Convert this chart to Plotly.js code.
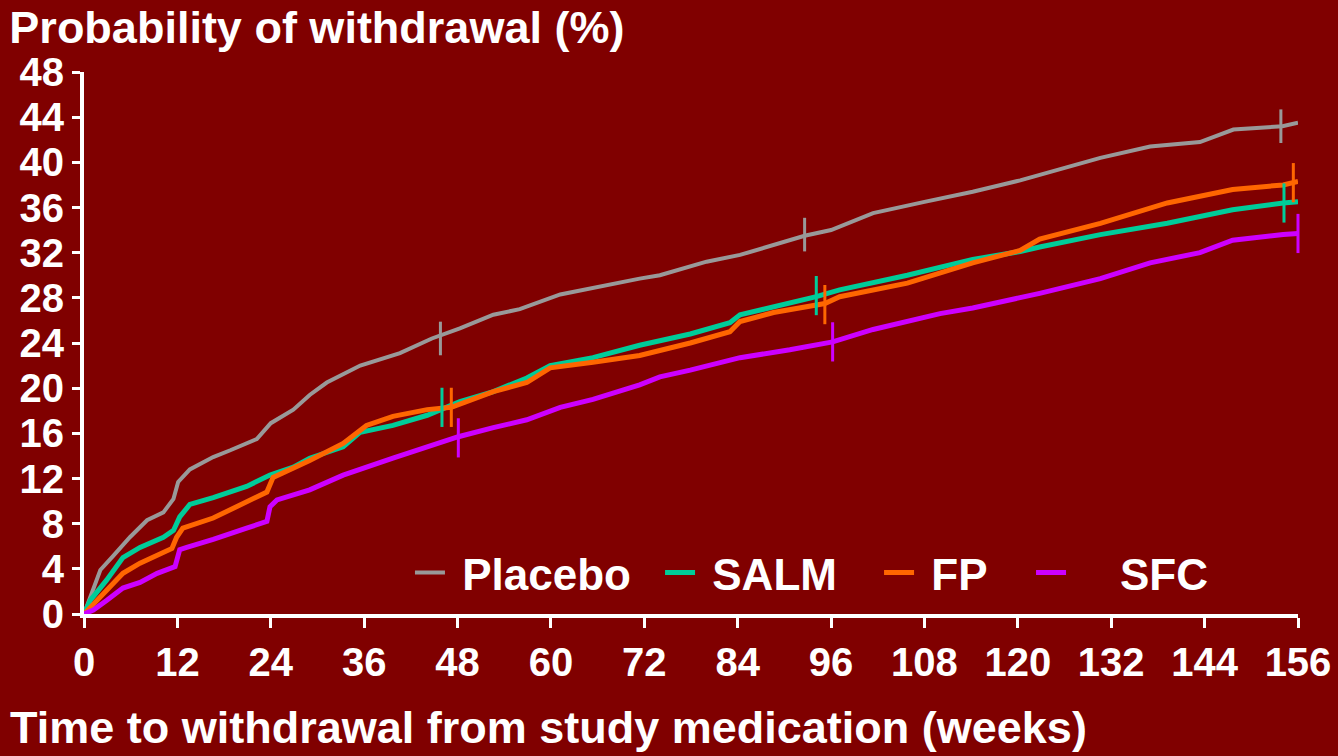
<!DOCTYPE html>
<html>
<head>
<meta charset="utf-8">
<script src="https://cdn.plot.ly/plotly-3.0.1.min.js"></script>
<style>html,body{margin:0;padding:0;background:#800000;}#chart{width:1338px;height:756px;}</style>
</head>
<body>
<div id="chart"></div>
<script>
// ---- data ----
const seriesNames = ["\u00a0Placebo", "\u00a0SALM", "\u00a0FP", "\u00a0\u00a0\u00a0\u00a0SFC"];

const placeboWeeks = [0, 0.8, 2.1, 3.7, 5.9, 8.1, 10.2, 11.5, 12.1, 13.6, 16.6, 18.8, 22.2, 24, 26.9, 29, 31.2, 35.5, 40.6, 44.7, 48.3, 52.6, 56, 61.2, 65.4, 71.4, 74, 80, 84.3, 92.6, 96, 101.4, 108, 114.2, 120.3, 130.6, 137, 143.4, 147.7, 154, 156];
const placeboPct   = [0, 1.5, 3.9, 5.1, 6.8, 8.3, 9.0, 10.2, 11.7, 12.8, 13.9, 14.5, 15.5, 16.9, 18.1, 19.4, 20.5, 22.0, 23.1, 24.4, 25.3, 26.5, 27.0, 28.3, 28.9, 29.7, 30.0, 31.2, 31.8, 33.5, 34.0, 35.5, 36.5, 37.4, 38.4, 40.4, 41.4, 41.8, 42.9, 43.2, 43.5];

const salmWeeks = [0, 0.8, 2.9, 5, 7.2, 10.2, 11.5, 12.3, 13.6, 16.6, 20.9, 23.9, 26.9, 29, 33.3, 35.5, 39.7, 44.1, 48.3, 52.6, 56.9, 59.9, 65.4, 71.4, 77.9, 83, 84.3, 88.6, 94.1, 97.1, 105.8, 114.2, 120.3, 122.8, 130.6, 139.2, 147.6, 154.1, 156];
const salmPct   = [0, 1.2, 3.0, 5.0, 5.9, 6.8, 7.4, 8.6, 9.7, 10.3, 11.3, 12.3, 13.0, 13.8, 14.8, 16.1, 16.7, 17.6, 18.8, 19.7, 20.9, 22.0, 22.7, 23.8, 24.8, 25.8, 26.5, 27.2, 28.1, 28.7, 30.0, 31.4, 32.1, 32.5, 33.6, 34.6, 35.8, 36.4, 36.5];

const fpWeeks = [0, 0.8, 2.9, 5, 7.2, 9.4, 11.3, 11.9, 12.7, 16.6, 20.9, 23.5, 24.3, 29, 33.3, 36.3, 39.7, 44.1, 47.2, 52.6, 56.9, 59.9, 65.4, 71.4, 77.9, 83, 84.3, 88.6, 95.2, 97.1, 105.8, 114.2, 120.3, 122.8, 130.6, 139.2, 147.6, 154.1, 156];
const fpPct   = [0, 0.6, 2.1, 3.6, 4.5, 5.2, 5.8, 6.8, 7.6, 8.5, 9.9, 10.8, 12.1, 13.6, 15.1, 16.7, 17.5, 18.1, 18.3, 19.7, 20.5, 21.8, 22.3, 22.9, 24.0, 25.0, 25.9, 26.7, 27.5, 28.1, 29.3, 31.1, 32.2, 33.2, 34.6, 36.4, 37.6, 38.0, 38.3];

const sfcWeeks = [0, 1.2, 2.9, 5, 7.2, 9.4, 11.7, 12.3, 13.2, 16.6, 20.9, 23.5, 23.9, 24.8, 29, 33.3, 39.7, 44.1, 48.1, 52.6, 56.9, 61.2, 65.4, 71.4, 74, 77.9, 84.3, 90.7, 96.2, 101.4, 110, 114.2, 122.8, 130.6, 137, 143.4, 147.6, 154.1, 156];
const sfcPct   = [0, 0.35, 1.2, 2.3, 2.8, 3.6, 4.2, 5.7, 5.9, 6.6, 7.6, 8.2, 9.5, 10.1, 11.0, 12.3, 13.8, 14.8, 15.7, 16.5, 17.2, 18.3, 19.0, 20.3, 21.0, 21.6, 22.7, 23.4, 24.1, 25.2, 26.6, 27.1, 28.4, 29.7, 31.1, 32.0, 33.1, 33.6, 33.7];

// censoring marks
const placeboCensorWeeks = [45.8, 92.6, 153.8];
const placeboCensorPct   = [24.4, 33.6, 43.2];
const salmCensorWeeks = [46.0, 94.1, 154.2];
const salmCensorPct   = [18.3, 28.2, 36.4];
const fpCensorWeeks = [47.2, 95.2, 155.4];
const fpCensorPct   = [18.3, 27.4, 38.2];
const sfcCensorWeeks = [48.1, 96.2, 156];
const sfcCensorPct   = [15.6, 24.1, 33.7];

const xTicks = [0, 12, 24, 36, 48, 60, 72, 84, 96, 108, 120, 132, 144, 156];
const yTicks = [0, 4, 8, 12, 16, 20, 24, 28, 32, 36, 40, 44, 48];

// ---- styles ----
const colors = ["#999999", "#00CC99", "#FF6600", "#CC00FF"];
const FONT = '"Liberation Sans", Arial, sans-serif';
const legendIds = ['legend', 'legend2', 'legend3', 'legend4'];
const legendX = [0.2685, 0.4745, 0.6549, 0.7801];

const lineData = [
  [placeboWeeks, placeboPct, placeboCensorWeeks, placeboCensorPct],
  [salmWeeks, salmPct, salmCensorWeeks, salmCensorPct],
  [fpWeeks, fpPct, fpCensorWeeks, fpCensorPct],
  [sfcWeeks, sfcPct, sfcCensorWeeks, sfcCensorPct]
];

const traces = [];
lineData.forEach((d, i) => {
  traces.push({
    x: d[0], y: d[1], type: 'scatter', mode: 'lines',
    name: seriesNames[i], legend: legendIds[i],
    line: {color: colors[i], width: i === 0 ? 4 : 5, shape: 'linear'},
    cliponaxis: false
  });
});
lineData.forEach((d, i) => {
  traces.push({
    x: d[2], y: d[3], type: 'scatter', mode: 'markers', showlegend: false,
    marker: {symbol: 'line-ns', size: i === 0 ? 24 : 28, color: colors[i], line: {color: colors[i], width: 3}},
    cliponaxis: false, hoverinfo: 'skip'
  });
});

const legendFont = {family: FONT, size: 44, color: '#ffffff', weight: 'bold'};

const layout = {
  width: 1338, height: 756,
  paper_bgcolor: '#800000', plot_bgcolor: '#800000',
  margin: {l: 84, r: 40, t: 72, b: 142},
  font: {family: FONT, color: '#ffffff', size: 40, weight: 'bold'},
  title: {
    text: '<b>Probability of withdrawal (%)</b>',
    font: {family: FONT, size: 45, color: '#ffffff'},
    x: 0.007, xanchor: 'left', xref: 'container',
    y: 0.985, yanchor: 'top', yref: 'container'
  },
  xaxis: {
    range: [0, 156], tickvals: xTicks, ticktext: xTicks.map(String),
    showgrid: false, zeroline: false,
    showline: true, linecolor: '#ffffff', linewidth: 4,
    ticks: 'outside', ticklen: 10, tickwidth: 3, tickcolor: '#ffffff',
    tickfont: {family: FONT, size: 40, color: '#ffffff', weight: 'bold'},
    fixedrange: true
  },
  yaxis: {
    range: [0, 48], tickvals: yTicks, ticktext: yTicks.map(String),
    showgrid: false, zeroline: false,
    showline: true, linecolor: '#ffffff', linewidth: 4,
    ticks: 'outside', ticklen: 8, tickwidth: 3, tickcolor: '#ffffff',
    tickfont: {family: FONT, size: 40, color: '#ffffff', weight: 'bold'},
    fixedrange: true
  },
  showlegend: true,
  annotations: [{
    text: '<b>Time to withdrawal from study medication (weeks)</b>',
    xref: 'paper', yref: 'paper', x: -0.063, y: -0.2605,
    xanchor: 'left', yanchor: 'bottom', showarrow: false,
    font: {family: FONT, size: 45, color: '#ffffff'}
  }]
};

legendIds.forEach((id, i) => {
  layout[id] = {
    orientation: 'h', x: legendX[i], y: 0.0756, xanchor: 'left', yanchor: 'middle',
    bgcolor: 'rgba(0,0,0,0)', borderwidth: 0,
    font: legendFont, itemwidth: 30
  };
});

Plotly.newPlot('chart', traces, layout, {displayModeBar: false, staticPlot: true});
</script>
</body>
</html>
